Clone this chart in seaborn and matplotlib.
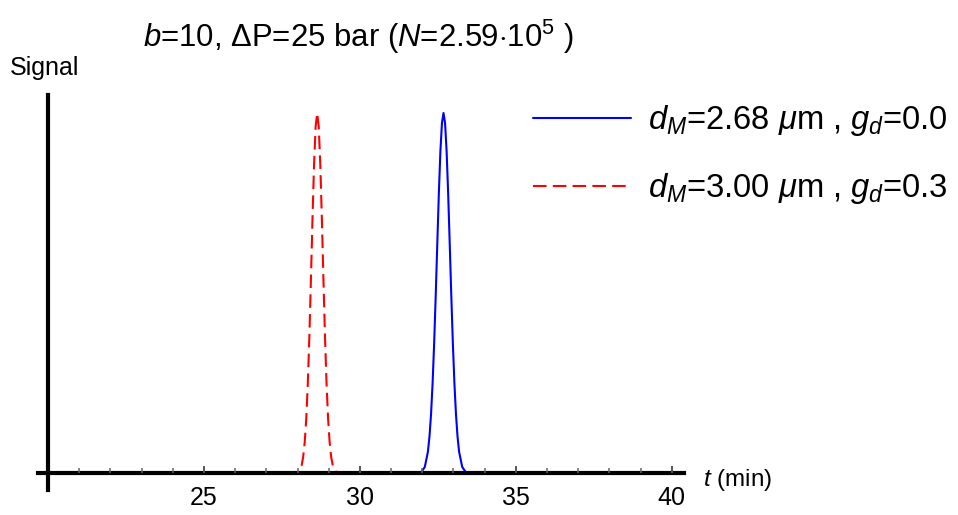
import matplotlib
matplotlib.use("Agg")
import matplotlib.pyplot as plt
import seaborn as sns
import pandas as pd

# ---- data ----
red_t = [20.0, 27.93, 28.03, 28.13, 28.18, 28.23, 28.28, 28.33, 28.38, 28.43, 28.48,
         28.53, 28.58, 28.63, 28.68, 28.73, 28.78, 28.83, 28.88, 28.93, 28.98,
         29.03, 29.08, 29.13, 29.23, 29.33, 40.0]
red_signal = [0.0, 0.0005, 0.004, 0.021, 0.044, 0.085, 0.151, 0.249, 0.381, 0.539, 0.707,
              0.857, 0.962, 1.0, 0.962, 0.857, 0.707, 0.539, 0.381, 0.249, 0.151,
              0.085, 0.044, 0.021, 0.004, 0.0005, 0.0]

blue_t = [20.0, 31.88, 31.98, 32.08, 32.18, 32.23, 32.28, 32.33, 32.38, 32.43, 32.48,
          32.53, 32.58, 32.63, 32.68, 32.73, 32.78, 32.83, 32.88, 32.93, 32.98,
          33.03, 33.08, 33.13, 33.18, 33.28, 33.38, 33.48, 40.0]
blue_signal = [0.0, 0.0007, 0.004, 0.017, 0.059, 0.101, 0.163, 0.249, 0.360, 0.492, 0.635,
               0.775, 0.893, 0.972, 1.0, 0.972, 0.893, 0.775, 0.635, 0.492, 0.360,
               0.249, 0.163, 0.101, 0.059, 0.017, 0.004, 0.0007, 0.0]

blue_label = r"$d_M$=2.68 $\mu$m , $g_d$=0.0"
red_label = r"$d_M$=3.00 $\mu$m , $g_d$=0.3"
title_text = r"$b$=10, ΔP=25 bar ($N$=2.59$\cdot$10$^{5}$ )"
x_major_ticks = [25, 30, 35, 40]
x_minor_ticks = [21, 22, 23, 24, 26, 27, 28, 29, 31, 32, 33, 34, 36, 37, 38, 39]

sns.set_style("white")
plt.rcParams["font.family"] = ["Liberation Sans", "DejaVu Sans"]
plt.rcParams["mathtext.fontset"] = "custom"
plt.rcParams["mathtext.rm"] = "Liberation Sans"
plt.rcParams["mathtext.it"] = "Liberation Sans:italic"
plt.rcParams["mathtext.bf"] = "Liberation Sans:bold"
plt.rcParams["text.color"] = "black"
plt.rcParams["xtick.labelcolor"] = "black"

W, H = 958, 515
fig = plt.figure(figsize=(W / 100, H / 100), dpi=100)
x0, x1, y0, y1 = 38, 684, 95, 490
ax = fig.add_axes([x0 / W, 1 - y1 / H, (x1 - x0) / W, (y1 - y0) / H])

df_blue = pd.DataFrame({"t": blue_t, "signal": blue_signal})
df_red = pd.DataFrame({"t": red_t, "signal": red_signal})
sns.lineplot(data=df_blue, x="t", y="signal", ax=ax, color="#0000ff", lw=1.5,
             label=blue_label, estimator=None, sort=False)
sns.lineplot(data=df_red, x="t", y="signal", ax=ax, color="#ff0000", lw=1.5,
             linestyle=(0, (6.5, 3)), label=red_label, estimator=None, sort=False)

ax.set_xlim(19.68, 40.39)
ax.set_ylim(-0.047, 1.05)

for s in ["top", "right"]:
    ax.spines[s].set_visible(False)
ax.spines["left"].set_position(("data", 20))
ax.spines["bottom"].set_position(("data", 0))
for s in ["left", "bottom"]:
    ax.spines[s].set_linewidth(3)
    ax.spines[s].set_color("black")
    ax.spines[s].set_zorder(3)
ax.xaxis.set_zorder(3.5)

ax.set_yticks([])
ax.set_xticks(x_major_ticks)
ax.set_xticks(x_minor_ticks, minor=True)
ax.tick_params(axis="x", which="both", bottom=True, top=False)
ax.tick_params(axis="x", which="major", direction="in", length=5, width=1.4,
               color="#555555", labelsize=18, pad=9)
ax.tick_params(axis="x", which="minor", direction="in", length=3.5, width=1.1,
               color="#666666")
ax.set_xlabel("")
ax.set_ylabel("")

fig.text(358 / W, 1 - 37 / H, title_text, ha="center", va="center", fontsize=22.4)
fig.text(10 / W, 1 - 68 / H, "Signal", ha="left", va="center", fontsize=18)
fig.text(703 / W, 1 - 480 / H, r"$t$ (min)", ha="left", va="center", fontsize=17.5)

leg = ax.legend(loc="upper left", bbox_to_anchor=(533 / W, 1 - 103 / H),
                bbox_transform=fig.transFigure, frameon=False, fontsize=23.6,
                handlelength=3.0, handletextpad=0.5, labelspacing=1.02,
                borderaxespad=0, borderpad=0)

fig.savefig("out.png", dpi=100)
